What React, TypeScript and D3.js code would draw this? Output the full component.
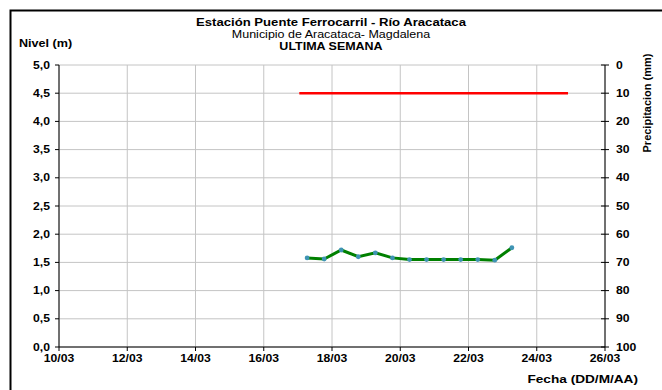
import React from "react";
import * as d3 from "d3";

const levelTimes = [
  "2023-03-17T06:30", "2023-03-17T18:30", "2023-03-18T06:30", "2023-03-18T18:30",
  "2023-03-19T06:30", "2023-03-19T18:30", "2023-03-20T06:30", "2023-03-20T18:30",
  "2023-03-21T06:30", "2023-03-21T18:30", "2023-03-22T06:30", "2023-03-22T18:30",
  "2023-03-23T06:30",
];
const levelValues = [1.58, 1.56, 1.72, 1.6, 1.67, 1.58, 1.55, 1.55, 1.55, 1.55, 1.55, 1.54, 1.76];

const precipTimes = ["2023-03-17T01:00", "2023-03-24T22:00"];
const precipValues = [10, 10];

const xDomain = ["2023-03-10T00:00", "2023-03-26T00:00"];
const levelTicks = [0, 0.5, 1, 1.5, 2, 2.5, 3, 3.5, 4, 4.5, 5];
const precipTicks = [0, 10, 20, 30, 40, 50, 60, 70, 80, 90, 100];

const titleLines = ["Estación Puente Ferrocarril - Río Aracataca", "Municipio de Aracataca- Magdalena", "ULTIMA SEMANA"];

const W = 662, H = 390;
const L = 59, R = 605, T = 65, B = 347;
const FONT = "'Liberation Sans', Arial, sans-serif";

function Txt(props: { x: number; y: number; sx?: number; rot?: number; anchor?: string; size?: number; bold?: boolean; children: React.ReactNode }) {
  const { x, y, sx = 1.22, rot = 0, anchor = "start", size = 10, bold = true, children } = props;
  return (
    <text
      transform={`translate(${x},${y}) rotate(${rot}) scale(${sx},1)`}
      textAnchor={anchor}
      fontSize={size}
      fontWeight={bold ? "bold" : "normal"}
    >
      {children}
    </text>
  );
}

export default function App() {
  const parse = (s: string) => new Date(s);
  const x = d3.scaleTime().domain(xDomain.map(parse)).range([L, R]);
  const yL = d3.scaleLinear().domain([0, 5]).range([B, T]);
  const yR = d3.scaleLinear().domain([0, 100]).range([T, B]);
  const xTicks = d3.timeDay.range(parse(xDomain[0]), d3.timeDay.offset(parse(xDomain[1]), 1), 2);
  const fmt = d3.timeFormat("%d/%m");

  const levelData = levelTimes.map((t, i) => ({ t: parse(t), v: levelValues[i] }));
  const precipData = precipTimes.map((t, i) => ({ t: parse(t), v: precipValues[i] }));
  const levelLine = d3.line<{ t: Date; v: number }>().x(d => x(d.t)).y(d => yL(d.v));
  const precipLine = d3.line<{ t: Date; v: number }>().x(d => x(d.t)).y(d => yR(d.v));

  return (
    <svg width={W} height={H} style={{ position: "absolute", left: 0, top: 0, background: "#fff" }} fontFamily={FONT}>
      <rect x={10.5} y={10.5} width={W + 10} height={H + 10} fill="#fff" stroke="#000" strokeWidth={2} />
      {/* gridlines */}
      {levelTicks.map(v => (
        <line key={"h" + v} x1={L} x2={R} y1={yL(v)} y2={yL(v)} stroke="#c4c4c4" strokeWidth={1} />
      ))}
      {xTicks.map(t => (
        <line key={"v" + t.getTime()} x1={x(t)} x2={x(t)} y1={T} y2={B} stroke="#c4c4c4" strokeWidth={1} />
      ))}
      {/* axes */}
      <line x1={L} x2={L} y1={T} y2={B} stroke="#000" strokeWidth={1} />
      <line x1={R} x2={R} y1={T} y2={B} stroke="#000" strokeWidth={1} />
      <line x1={L} x2={R} y1={B} y2={B} stroke="#000" strokeWidth={1} />
      {levelTicks.map(v => (
        <g key={"lt" + v}>
          <line x1={L - 4} x2={L} y1={yL(v)} y2={yL(v)} stroke="#000" />
          <Txt x={50} y={yL(v) + 3.5} anchor="end">{d3.format(".1f")(v).replace(".", ",")}</Txt>
        </g>
      ))}
      {precipTicks.map(v => (
        <g key={"rt" + v}>
          <line x1={R - 4} x2={R + 4} y1={yR(v)} y2={yR(v)} stroke="#000" />
          <Txt x={616} y={yR(v) + 3.5}>{v}</Txt>
        </g>
      ))}
      {xTicks.map(t => (
        <g key={"xt" + t.getTime()}>
          <line x1={x(t)} x2={x(t)} y1={B} y2={B + 4} stroke="#000" />
          <Txt x={x(t)} y={362} anchor="middle">{fmt(t)}</Txt>
        </g>
      ))}
      {/* series */}
      <path d={precipLine(precipData) || ""} fill="none" stroke="#ff0000" strokeWidth={2.5} />
      <path d={levelLine(levelData) || ""} fill="none" stroke="#008000" strokeWidth={3} />
      {levelData.map((d, i) => (
        <circle key={"p" + i} cx={x(d.t)} cy={yL(d.v)} r={2.4} fill="#3f94b4" />
      ))}
      {/* titles */}
      <Txt x={331} y={26} anchor="middle" sx={1.25} size={10.5}>{titleLines[0]}</Txt>
      <Txt x={331} y={38} anchor="middle" sx={1.25} size={10} bold={false}>{titleLines[1]}</Txt>
      <Txt x={331} y={49.5} anchor="middle" sx={1.25} size={10}>{titleLines[2]}</Txt>
      <Txt x={19} y={47} sx={1.2} size={10.5}>Nivel (m)</Txt>
      <Txt x={638} y={383} anchor="end" sx={1.3} size={10.5}>Fecha (DD/M/AA)</Txt>
      <Txt x={651} y={103} rot={-90} anchor="middle" sx={1.1}>Precipitacion (mm)</Txt>
    </svg>
  );
}
